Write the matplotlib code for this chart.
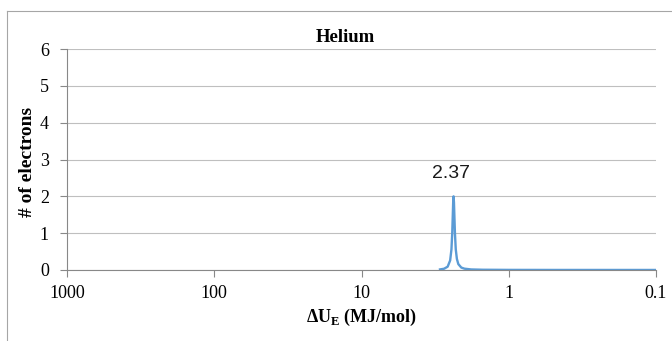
import matplotlib
matplotlib.use("Agg")
import matplotlib.pyplot as plt
from matplotlib.lines import Line2D
from matplotlib.ticker import FixedLocator, FixedFormatter, NullLocator

# Data
energy = [2.93, 2.75, 2.6, 2.5, 2.45, 2.42, 2.40, 2.385, 2.37, 2.355, 2.34, 2.32,
          2.29, 2.25, 2.2, 2.1, 2.0, 1.8, 1.5, 1.0, 0.5, 0.1]
electrons = [0.016, 0.034, 0.09, 0.26, 0.56, 1.0, 1.47, 1.83, 2.0, 1.83, 1.47, 1.0,
             0.56, 0.30, 0.16, 0.066, 0.036, 0.015, 0.007, 0.003, 0.0015, 0.001]
x_ticks = [1000, 100, 10, 1, 0.1]
x_tick_labels = ["1000", "100", "10", "1", "0.1"]
y_ticks = [0, 1, 2, 3, 4, 5, 6]
peak_value = 2.37
peak_height = 2.0

plt.rcParams['mathtext.fontset'] = 'custom'
plt.rcParams['mathtext.rm'] = 'Liberation Serif'
plt.rcParams['mathtext.bf'] = 'Liberation Serif:bold'

serif = 'Liberation Serif'
W, H = 672, 341
fig = plt.figure(figsize=(W/100, H/100), dpi=100)
ax = fig.add_axes([67/W, 1 - 270/H, (656 - 67)/W, (270 - 49)/H])

ax.plot(energy, electrons, color='#5B9BD5', lw=1.7, solid_joinstyle='round')
ax.set_xscale('log')
ax.set_xlim(1000, 0.1)
ax.set_ylim(0, 6)

ax.xaxis.set_major_locator(FixedLocator(x_ticks))
ax.xaxis.set_major_formatter(FixedFormatter(x_tick_labels))
ax.xaxis.set_minor_locator(NullLocator())
ax.set_yticks(y_ticks)
ax.set_yticklabels([str(v) for v in y_ticks])

for lab in ax.get_xticklabels() + ax.get_yticklabels():
    lab.set_fontfamily(serif)
    lab.set_fontsize(13)
    lab.set_color('black')

ax.tick_params(axis='x', direction='out', length=5, width=0.8, color='#888888', pad=6)
ax.tick_params(axis='y', direction='out', length=5, width=0.8, color='#888888', pad=8)

ax.grid(axis='y', color='#BFBFBF', lw=0.8)
ax.set_axisbelow(True)
for s in ['top', 'right']:
    ax.spines[s].set_visible(False)
for s in ['left', 'bottom']:
    ax.spines[s].set_color('#888888')
    ax.spines[s].set_linewidth(0.8)

# title centred on the (cropped) chart area
fig.text(345/W, 1 - 37/H, 'Helium', fontfamily=serif, fontweight='bold', fontsize=13.5,
         ha='center', va='center')
fig.text(27/W, 1 - 162/H, '# of electrons', fontfamily=serif, fontweight='bold', fontsize=14,
         ha='center', va='center', rotation=90)
fig.text(362/W, 1 - 317/H, r'ΔU$_\mathbf{E}$ (MJ/mol)', fontfamily=serif, fontweight='bold',
         fontsize=13, ha='center', va='center')

ax.annotate(f'{peak_value:.2f}', xy=(peak_value, peak_height), xytext=(-2, 10),
            textcoords='offset points', ha='center', va='bottom',
            fontfamily='Liberation Sans', fontsize=14, color='#1a1a1a')

# chart border (cropped)
fig.add_artist(Line2D([7/W, 7/W], [0, 1 - 11/H], transform=fig.transFigure,
                      color='#A6A6A6', lw=0.8))
fig.add_artist(Line2D([7/W, 1], [1 - 11/H, 1 - 11/H], transform=fig.transFigure,
                      color='#A6A6A6', lw=0.8))

fig.savefig('out.png', dpi=100)
